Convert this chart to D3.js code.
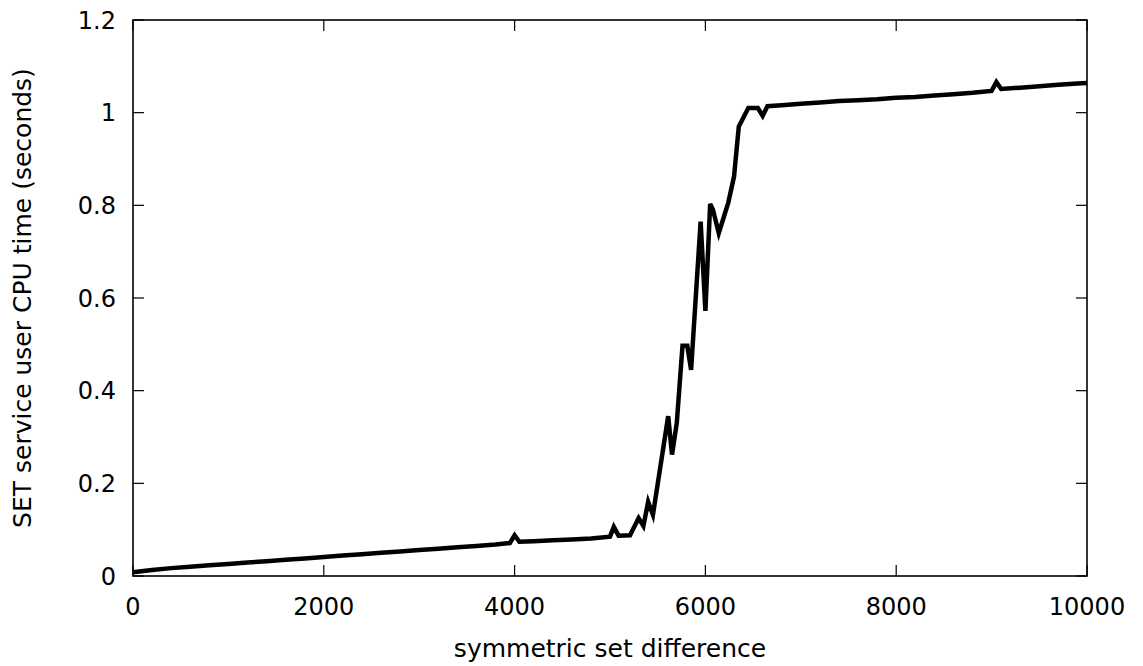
<!DOCTYPE html>
<html>
<head>
<meta charset="utf-8">
<script src="https://cdn.jsdelivr.net/npm/d3@7"></script>
<style>
  html, body { margin: 0; padding: 0; background: #fff; }
  svg { display: block; }
  text { font-family: "DejaVu Sans", sans-serif; fill: #000; }
</style>
</head>
<body>
<svg id="chart" width="1143" height="666"></svg>
<script>
// ---- data ----
const diffs = [0, 200, 400, 600, 800, 1000, 1200, 1400, 1600, 1800, 2000, 2200, 2400, 2600, 2800,
  3000, 3200, 3400, 3600, 3800, 3950, 4000, 4050, 4200, 4400, 4600, 4800, 5000, 5040, 5090, 5210,
  5300, 5350, 5400, 5450, 5610, 5650, 5700, 5760, 5810, 5850, 5950, 6000, 6050, 6080, 6140, 6240,
  6300, 6350, 6450, 6550, 6600, 6650, 6800, 7000, 7200, 7400, 7600, 7800, 8000, 8200, 8400, 8600,
  8800, 9000, 9050, 9100, 9300, 9500, 9700, 9900, 10000];
const cpuTimes = [0.008, 0.013, 0.017, 0.020, 0.023, 0.026, 0.029, 0.032, 0.035, 0.038, 0.041, 0.044, 0.047, 0.050, 0.053,
  0.056, 0.059, 0.062, 0.065, 0.068, 0.071, 0.088, 0.074, 0.075, 0.077, 0.079, 0.081, 0.085, 0.106, 0.087, 0.088,
  0.125, 0.108, 0.160, 0.132, 0.345, 0.262, 0.330, 0.497, 0.497, 0.445, 0.765, 0.572, 0.803, 0.790, 0.740, 0.806,
  0.862, 0.970, 1.010, 1.010, 0.993, 1.014, 1.016, 1.019, 1.022, 1.025, 1.027, 1.029, 1.032, 1.034, 1.037, 1.040,
  1.043, 1.047, 1.066, 1.051, 1.054, 1.057, 1.060, 1.063, 1.064];
const xTicks = [0, 2000, 4000, 6000, 8000, 10000];
const yTicks = [0, 0.2, 0.4, 0.6, 0.8, 1, 1.2];
const xLabel = "symmetric set difference";
const yLabel = "SET service user CPU time (seconds)";

// ---- layout ----
const svg = d3.select("#chart");
const L = 133, R = 1087, T = 20, B = 576;
const x = d3.scaleLinear().domain([0, 10000]).range([L, R]);
const y = d3.scaleLinear().domain([0, 1.2]).range([B, T]);
const tickLen = 11;
const tickFont = 24;
const titleFont = 25;

// mirrored inward ticks (gnuplot style)
const g = svg.append("g");
xTicks.forEach(v => {
  g.append("line").attr("x1", x(v)).attr("x2", x(v)).attr("y1", B).attr("y2", B - tickLen)
    .attr("stroke", "#000").attr("stroke-width", 1.2);
  g.append("line").attr("x1", x(v)).attr("x2", x(v)).attr("y1", T).attr("y2", T + tickLen)
    .attr("stroke", "#000").attr("stroke-width", 1.2);
});
yTicks.forEach(v => {
  g.append("line").attr("x1", L).attr("x2", L + tickLen).attr("y1", y(v)).attr("y2", y(v))
    .attr("stroke", "#000").attr("stroke-width", 1.2);
  g.append("line").attr("x1", R).attr("x2", R - tickLen).attr("y1", y(v)).attr("y2", y(v))
    .attr("stroke", "#000").attr("stroke-width", 1.2);
});

// tick labels
svg.append("g").selectAll("text").data(xTicks).join("text")
  .attr("x", d => x(d)).attr("y", 615)
  .attr("text-anchor", "middle").attr("font-size", tickFont)
  .text(d => d3.format("d")(d));
svg.append("g").selectAll("text").data(yTicks).join("text")
  .attr("x", 116).attr("y", d => y(d)).attr("dy", "0.36em")
  .attr("text-anchor", "end").attr("font-size", tickFont)
  .text(d => String(d));

// axis titles
svg.append("text").attr("x", (L + R) / 2).attr("y", 657)
  .attr("text-anchor", "middle").attr("font-size", titleFont).text(xLabel);
svg.append("text")
  .attr("transform", `translate(31, ${(T + B) / 2}) rotate(-90)`)
  .attr("text-anchor", "middle").attr("font-size", titleFont).text(yLabel);

// data line
const pts = diffs.map((d, i) => [d, cpuTimes[i]]);
svg.append("path").datum(pts)
  .attr("fill", "none").attr("stroke", "#000").attr("stroke-width", 4.5)
  .attr("stroke-linejoin", "miter").attr("stroke-miterlimit", 4)
  .attr("d", d3.line().x(d => x(d[0])).y(d => y(d[1])));

// frame
svg.append("rect").attr("x", L).attr("y", T).attr("width", R - L).attr("height", B - T)
  .attr("fill", "none").attr("stroke", "#000").attr("stroke-width", 1.6);
</script>
</body>
</html>
